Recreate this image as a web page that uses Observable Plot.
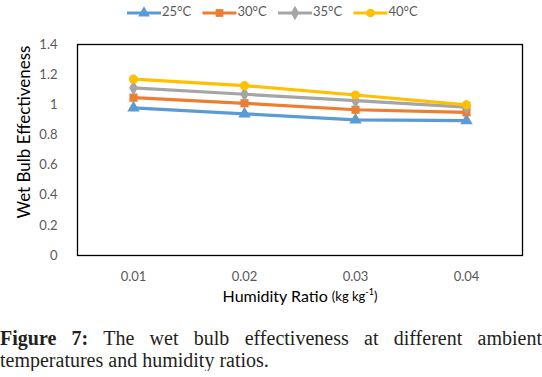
<!DOCTYPE html>
<html>
<head>
<meta charset="utf-8">
<script src="https://cdn.jsdelivr.net/npm/d3@7"></script>
<script src="https://cdn.jsdelivr.net/npm/@observablehq/plot@0.6"></script>
<style>
  html, body { margin: 0; padding: 0; background: #fff; }
  #wrap { width: 542px; }
  #legend { display: block; }
  #chart svg { display: block; }
  .cap { font-family: "Liberation Serif", "DejaVu Serif", serif; font-size: 20px; line-height: 22px; color: #231f20; }
  .cap1 { text-align: justify; text-align-last: justify; margin-top: 9px; }
</style>
</head>
<body>
<div id="wrap">
  <svg id="legend" width="542" height="28"></svg>
  <div id="chart"></div>
  <div class="cap cap1"><b>Figure 7:</b> The wet bulb effectiveness at different ambient</div>
  <div class="cap">temperatures and humidity ratios.</div>
</div>
<script>
const humidity = ["0.01", "0.02", "0.03", "0.04"];
const seriesNames = ["25°C", "30°C", "35°C", "40°C"];
const seriesColors = ["#5B9BD5", "#ED7D31", "#A5A5A5", "#FFC000"];
const seriesSymbols = ["triangle", "square", "diamond", "circle"];
const values25 = [0.98, 0.94, 0.90, 0.895];
const values30 = [1.047, 1.01, 0.967, 0.95];
const values35 = [1.112, 1.07, 1.027, 0.985];
const values40 = [1.17, 1.127, 1.065, 1.0];
const yTicks = [0, 0.2, 0.4, 0.6, 0.8, 1, 1.2, 1.4];

const allValues = [values25, values30, values35, values40];
const table = [];
seriesNames.forEach((s, i) => {
  humidity.forEach((h, j) => table.push({series: s, x: h, y: allValues[i][j]}));
});

const chart = Plot.plot({
  width: 542,
  height: 290,
  marginLeft: 77,
  marginRight: 20,
  marginTop: 16,
  marginBottom: 63,
  style: {fontFamily: "Lato, 'Open Sans', sans-serif", fontSize: "13px", color: "#595959", background: "#fff"},
  x: {type: "point", domain: humidity, padding: 0.5, label: null},
  y: {domain: [0, 1.4], label: null},
  color: {domain: seriesNames, range: seriesColors},
  symbol: {domain: seriesNames, range: seriesSymbols},
  marks: [
    Plot.frame({stroke: "#000", strokeWidth: 1.3}),
    Plot.axisY({ticks: yTicks, tickSize: 0, tickPadding: 20, tickFormat: d => String(+d.toFixed(1)), label: null, fill: "#595959"}),
    Plot.axisX({tickSize: 0, tickPadding: 16, label: null, fill: "#595959"}),
    Plot.line(table, {x: "x", y: "y", z: "series", stroke: "series", strokeWidth: 3.2}),
    Plot.dot(table, {x: "x", y: "y", fill: "series", symbol: "series", r: 4.6, stroke: "none"})
  ]
});
document.getElementById("chart").appendChild(chart);

// axis titles
const svg = d3.select(chart);
svg.append("text")
  .attr("transform", "translate(26,104) rotate(-90)")
  .attr("text-anchor", "middle")
  .attr("dominant-baseline", "middle")
  .attr("fill", "#000")
  .style("font-family", "Lato, 'Open Sans', sans-serif")
  .style("font-size", "17px")
  .text("Wet Bulb Effectiveness");
const xl = svg.append("text")
  .attr("x", 300).attr("y", 270)
  .attr("text-anchor", "middle")
  .attr("dominant-baseline", "middle")
  .attr("fill", "#000")
  .style("font-family", "Lato, 'Open Sans', sans-serif")
  .style("font-size", "16px");
xl.append("tspan").text("Humidity Ratio ");
xl.append("tspan").style("font-size", "13px").text("(kg kg");
xl.append("tspan").style("font-size", "9px").attr("dy", -5).text("-1");
xl.append("tspan").style("font-size", "13px").attr("dy", 5).text(")");

// legend
const leg = d3.select("#legend");
const symMap = {triangle: d3.symbolTriangle, square: d3.symbolSquare, diamond: d3.symbolDiamond, circle: d3.symbolCircle};
seriesNames.forEach((s, i) => {
  const x0 = 127 + i * 75.5;
  const g = leg.append("g").attr("transform", `translate(${x0},13)`);
  g.append("line").attr("x1", 0).attr("x2", 34).attr("y1", 0).attr("y2", 0)
    .attr("stroke", seriesColors[i]).attr("stroke-width", 3.2);
  g.append("path").attr("transform", "translate(17,0)")
    .attr("d", d3.symbol(symMap[seriesSymbols[i]], 60)())
    .attr("fill", seriesColors[i]);
  g.append("text").attr("x", 35).attr("y", 0).attr("dominant-baseline", "middle")
    .attr("fill", "#595959")
    .style("font-family", "Lato, 'Open Sans', sans-serif").style("font-size", "13px")
    .text(s);
});
</script>
</body>
</html>
